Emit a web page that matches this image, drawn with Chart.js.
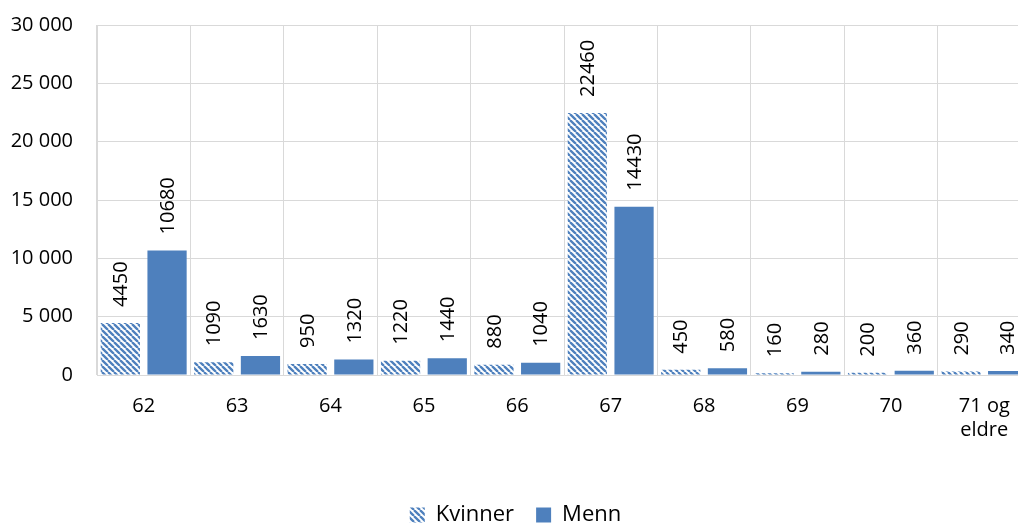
<!DOCTYPE html>
<html>
<head>
<meta charset="utf-8">
<script src="https://cdn.jsdelivr.net/npm/chart.js@4/dist/chart.umd.min.js"></script>
<style>
  html, body { margin:0; padding:0; background:#fff; overflow:hidden; }
  #wrap { width:1045px; height:525px; }
</style>
</head>
<body>
<div id="wrap"><canvas id="chart" width="1045" height="525"></canvas></div>
<script>
// Data
const alder = ["62","63","64","65","66","67","68","69","70",["71 og","eldre"]];
const kvinner = [4450,1090,950,1220,880,22460,450,160,200,290];
const menn = [10680,1630,1320,1440,1040,14430,580,280,360,340];
const yTicks = [0,5000,10000,15000,20000,25000,30000];

const BLUE = '#4e80bd';
const FONT = "'Open Sans', 'DejaVu Sans', sans-serif";

// skravert mønster for Kvinner
function lagSkravur(farge){
  const c = document.createElement('canvas');
  c.width = 6; c.height = 6;
  const g = c.getContext('2d');
  g.fillStyle = '#fff'; g.fillRect(0,0,6,6);
  g.strokeStyle = farge; g.lineWidth = 2.3;
  g.beginPath();
  for (let k=-1;k<=1;k++){ g.moveTo(k*6,0); g.lineTo(k*6+6,6); }
  g.stroke();
  return g.createPattern(c,'repeat');
}

function fmt(v){ return String(v).replace(/\B(?=(\d{3})+(?!\d))/g,' '); }

// verdier rotert over søylene
const verdiEtiketter = {
  id: 'verdiEtiketter',
  afterDatasetsDraw(chart){
    const ctx = chart.ctx;
    ctx.save();
    ctx.font = "20px " + FONT;
    ctx.fillStyle = '#000';
    ctx.textAlign = 'left';
    ctx.textBaseline = 'middle';
    chart.data.datasets.forEach((ds,i) => {
      chart.getDatasetMeta(i).data.forEach((el,j) => {
        ctx.save();
        ctx.translate(el.x, el.y - 16);
        ctx.rotate(-Math.PI/2);
        ctx.fillText(String(ds.data[j]), 0, 1);
        ctx.restore();
      });
    });
    ctx.restore();
  }
};

new Chart(document.getElementById('chart'), {
  type: 'bar',
  data: {
    labels: alder,
    datasets: [
      { label: 'Kvinner', data: kvinner, backgroundColor: lagSkravur(BLUE), borderWidth: 0 },
      { label: 'Menn', data: menn, backgroundColor: BLUE, borderWidth: 0 }
    ]
  },
  options: {
    responsive: false,
    animation: false,
    layout: { padding: { left: 0, right: 14, top: 25, bottom: -11 } },
    datasets: { bar: { categoryPercentage: 1.0, barPercentage: 0.84 } },
    scales: {
      x: {
        grid: { color: '#d9d9d9', drawTicks: false, offset: true },
        border: { color: '#d9d9d9' },
        ticks: { color: '#000', font: { family: FONT, size: 20 }, padding: 19, maxRotation: 0 },
        afterFit(s){ s.height = 107; }
      },
      y: {
        min: 0, max: 30000,
        afterBuildTicks(s){ s.ticks = yTicks.map(v => ({ value: v })); },
        grid: { color: '#d9d9d9', drawTicks: true, tickLength: 12, tickColor: 'rgba(0,0,0,0)' },
        border: { color: '#d9d9d9' },
        ticks: { color: '#000', font: { family: FONT, size: 20 }, padding: 12, callback: v => fmt(v) },
        afterFit(s){ s.width = 97; }
      }
    },
    plugins: {
      legend: {
        position: 'bottom',
        labels: { color: '#000', font: { family: FONT, size: 22, lineHeight: 1 }, boxWidth: 15, boxHeight: 15, padding: 22 }
      },
      tooltip: { enabled: false }
    }
  },
  plugins: [verdiEtiketter]
});
</script>
</body>
</html>
